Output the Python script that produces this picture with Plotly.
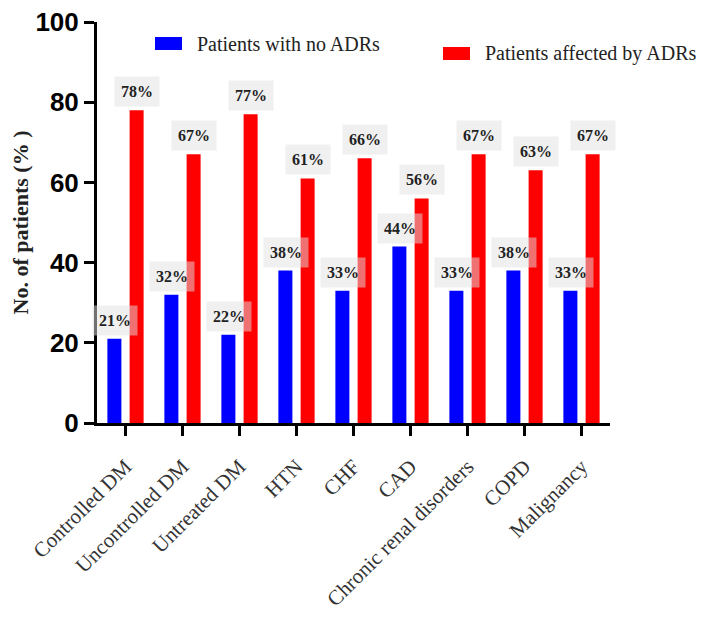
import plotly.graph_objects as go

categories = ["Controlled DM", "Uncontrolled DM", "Untreated DM", "HTN", "CHF", "CAD",
              "Chronic renal disorders", "COPD", "Malignancy"]
no_adr = [21, 32, 22, 38, 33, 44, 33, 38, 33]
adr = [78, 67, 77, 61, 66, 56, 67, 63, 67]
series_names = ["Patients with no ADRs", "Patients affected by ADRs"]
y_ticks = [0, 20, 40, 60, 80, 100]

BLUE = "#0000ff"
RED = "#ff0000"
SERIF = "Liberation Serif"

fig = go.Figure()
fig.add_trace(go.Bar(x=categories, y=no_adr, name=series_names[0], marker_color=BLUE,
                     marker_line_width=0, showlegend=False))
fig.add_trace(go.Bar(x=categories, y=adr, name=series_names[1], marker_color=RED,
                     marker_line_width=0, showlegend=False))

for c, v in zip(categories, no_adr):
    fig.add_annotation(x=c, y=v, text=f"{v}%", showarrow=False, xshift=-11, yshift=3,
                       yanchor="bottom", bgcolor="rgba(225,225,225,0.5)",
                       borderpad=6, font=dict(family=SERIF, size=16, color="#222", weight="bold"))
for c, v in zip(categories, adr):
    fig.add_annotation(x=c, y=v, text=f"{v}%", showarrow=False, xshift=11, yshift=3,
                       yanchor="bottom", bgcolor="rgba(225,225,225,0.5)",
                       borderpad=6, font=dict(family=SERIF, size=16, color="#222", weight="bold"))

# page has an 8px body margin; plot area spans page x 97..610, y 22..423
PX0, PW, PY0, PH = 97, 513, 22, 401
legend_items = [(155, 37, BLUE, series_names[0]), (443, 47, RED, series_names[1])]
for x0, y0, col, txt in legend_items:
    fig.add_shape(type="rect", xref="paper", yref="paper",
                  x0=(x0 - PX0) / PW, x1=(x0 + 27 - PX0) / PW,
                  y0=(PY0 + PH - y0) / PH, y1=(PY0 + PH - y0 - 13) / PH,
                  fillcolor=col, line_width=0)
    fig.add_annotation(xref="paper", yref="paper", x=(x0 + 40 - PX0) / PW,
                       y=(PY0 + PH - y0 - 6.5) / PH, text=txt, showarrow=False,
                       xanchor="left", yanchor="middle",
                       font=dict(family=SERIF, size=20, color="#222"))

fig.update_layout(
    width=699, height=614,
    margin=dict(l=89, r=97, t=14, b=199),
    paper_bgcolor="white", plot_bgcolor="white",
    barmode="group", bargap=0.22, bargroupgap=0.37,
    xaxis=dict(showline=True, linewidth=3, linecolor="black", ticks="outside",
               ticklen=10, tickwidth=3, tickcolor="black", tickangle=-45,
               ticklabelstandoff=10,
               tickfont=dict(family=SERIF, size=21, color="#333"), automargin=False,
               range=[-0.5, 8.5], showgrid=False, zeroline=False),
    yaxis=dict(range=[0, 100], tickvals=y_ticks, showline=True, linewidth=3,
               linecolor="black", ticks="outside", ticklen=10, tickwidth=3,
               tickcolor="black", showgrid=False, zeroline=False, automargin=False,
               ticklabeloverflow="allow",
               tickfont=dict(family="Liberation Sans", size=26,
                             color="black", weight="bold"),
               title=dict(text="No. of patients (% )", standoff=8,
                          font=dict(family=SERIF, size=22, color="#222", weight="bold"))),
)

fig.write_html("out.html")
